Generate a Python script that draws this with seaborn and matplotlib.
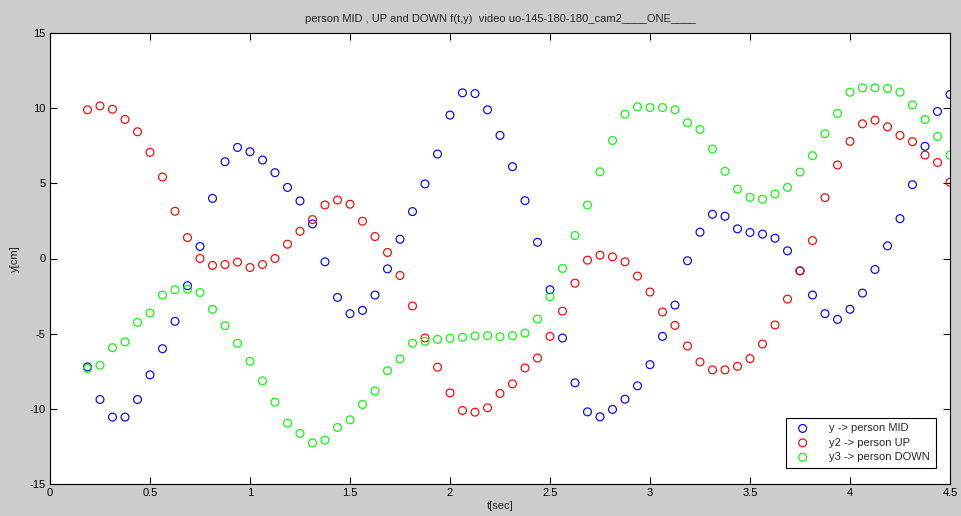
import matplotlib
matplotlib.use("Agg")
import matplotlib.pyplot as plt
import seaborn as sns
import pandas as pd

t = [0.1875, 0.25, 0.3125, 0.375, 0.4375, 0.5, 0.5625, 0.625, 0.6875, 0.75,
     0.8125, 0.875, 0.9375, 1.0, 1.0625, 1.125, 1.1875, 1.25, 1.3125, 1.375,
     1.4375, 1.5, 1.5625, 1.625, 1.6875, 1.75, 1.8125, 1.875, 1.9375, 2.0,
     2.0625, 2.125, 2.1875, 2.25, 2.3125, 2.375, 2.4375, 2.5, 2.5625, 2.625,
     2.6875, 2.75, 2.8125, 2.875, 2.9375, 3.0, 3.0625, 3.125, 3.1875, 3.25,
     3.3125, 3.375, 3.4375, 3.5, 3.5625, 3.625, 3.6875, 3.75, 3.8125, 3.875,
     3.9375, 4.0, 4.0625, 4.125, 4.1875, 4.25, 4.3125, 4.375, 4.4375, 4.5]

y_mid = [-7.21, -9.38, -10.55, -10.55, -9.38, -7.74, -6.00, -4.18, -1.81, 0.80,
         4.00, 6.44, 7.39, 7.10, 6.55, 5.71, 4.73, 3.83, 2.30, -0.22,
         -2.59, -3.67, -3.45, -2.43, -0.69, 1.28, 3.12, 4.96, 6.95, 9.54,
         11.02, 10.97, 9.89, 8.19, 6.11, 3.85, 1.08, -2.08, -5.29, -8.27,
         -10.20, -10.53, -10.04, -9.36, -8.47, -7.06, -5.18, -3.10, -0.15, 1.75,
         2.94, 2.81, 1.97, 1.73, 1.62, 1.35, 0.51, -0.82, -2.43, -3.67,
         -4.05, -3.38, -2.30, -0.73, 0.84, 2.65, 4.91, 7.46, 9.78, 10.91]

y_up = [9.89, 10.15, 9.93, 9.25, 8.43, 7.06, 5.42, 3.14, 1.39, 0.00,
        -0.46, -0.40, -0.24, -0.60, -0.40, 0.00, 0.95, 1.81, 2.59, 3.56,
        3.89, 3.61, 2.48, 1.46, 0.40, -1.13, -3.16, -5.29, -7.23, -8.94,
        -10.11, -10.22, -9.93, -8.98, -8.34, -7.28, -6.62, -5.18, -3.50, -1.64,
        -0.11, 0.22, 0.11, -0.22, -1.17, -2.23, -3.56, -4.45, -5.82, -6.88,
        -7.41, -7.41, -7.17, -6.66, -5.69, -4.42, -2.70, -0.82, 1.19, 4.05,
        6.22, 7.79, 8.96, 9.20, 8.76, 8.19, 7.77, 6.88, 6.39, 5.07]

y_down = [-7.32, -7.10, -5.93, -5.55, -4.25, -3.63, -2.43, -2.08, -2.04, -2.26,
          -3.38, -4.47, -5.64, -6.84, -8.14, -9.56, -10.95, -11.64, -12.26, -12.08,
          -11.24, -10.73, -9.71, -8.81, -7.46, -6.68, -5.64, -5.51, -5.38, -5.31,
          -5.24, -5.15, -5.13, -5.20, -5.13, -4.96, -4.03, -2.54, -0.66, 1.53,
          3.56, 5.77, 7.85, 9.60, 10.09, 10.04, 10.04, 9.89, 9.03, 8.58,
          7.28, 5.80, 4.62, 4.07, 3.94, 4.29, 4.73, 5.75, 6.84, 8.30,
          9.65, 11.06, 11.35, 11.35, 11.31, 11.06, 10.22, 9.25, 8.12, 6.88]

labels = ["y -> person MID", "y2 -> person UP", "y3 -> person DOWN"]
colors = ["#0000ff", "#ff0000", "#00ff00"]
x_ticks = [0, 0.5, 1, 1.5, 2, 2.5, 3, 3.5, 4, 4.5]
x_tick_labels = ["0", "0.5", "1", "1.5", "2", "2.5", "3", "3.5", "4", "4.5"]
y_ticks = [-15, -10, -5, 0, 5, 10, 15]

sns.set_theme(style="white")
plt.rcParams["font.family"] = ["Liberation Sans Narrow", "Liberation Sans", "DejaVu Sans"]
plt.rcParams["axes.unicode_minus"] = False

fig = plt.figure(figsize=(9.61, 5.16), dpi=100, facecolor="#cccccc")
ax = fig.add_axes([50 / 961, 1 - 484 / 516, 900 / 961, 451 / 516])
ax.set_facecolor("white")

for ys, lab, col in zip([y_mid, y_up, y_down], labels, colors):
    df = pd.DataFrame({"t": t, "y": ys})
    sns.scatterplot(data=df, x="t", y="y", ax=ax, s=32, marker="o",
                    facecolors="none", edgecolor=col, color=col,
                    linewidth=0.85, label=lab)

ax.set_xlim(0, 4.5)
ax.set_ylim(-15, 15)
ax.set_xticks(x_ticks)
ax.set_xticklabels(x_tick_labels)
ax.set_yticks(y_ticks)
ax.tick_params(direction="in", length=5, width=0.8, colors="black",
               labelsize=8, top=True, right=True, bottom=True, left=True,
               pad=3)
for sp in ax.spines.values():
    sp.set_color("black")
    sp.set_linewidth(0.8)

ax.set_xlabel("t[sec]", fontsize=8, labelpad=2)
ax.set_ylabel("y[cm]", fontsize=8, labelpad=7)
ax.set_title("person MID , UP and DOWN f(t,y)  video uo-145-180-180_cam2____ONE____",
             fontsize=8, pad=8)

leg = ax.legend(loc="lower right", bbox_to_anchor=(0.984, 0.036), borderaxespad=0,
                fancybox=False, framealpha=1, edgecolor="black", fontsize=8,
                handletextpad=1.4, borderpad=0.5, labelspacing=0.4)
leg.get_frame().set_linewidth(0.8)

fig.savefig("out.png", dpi=100, facecolor=fig.get_facecolor())
